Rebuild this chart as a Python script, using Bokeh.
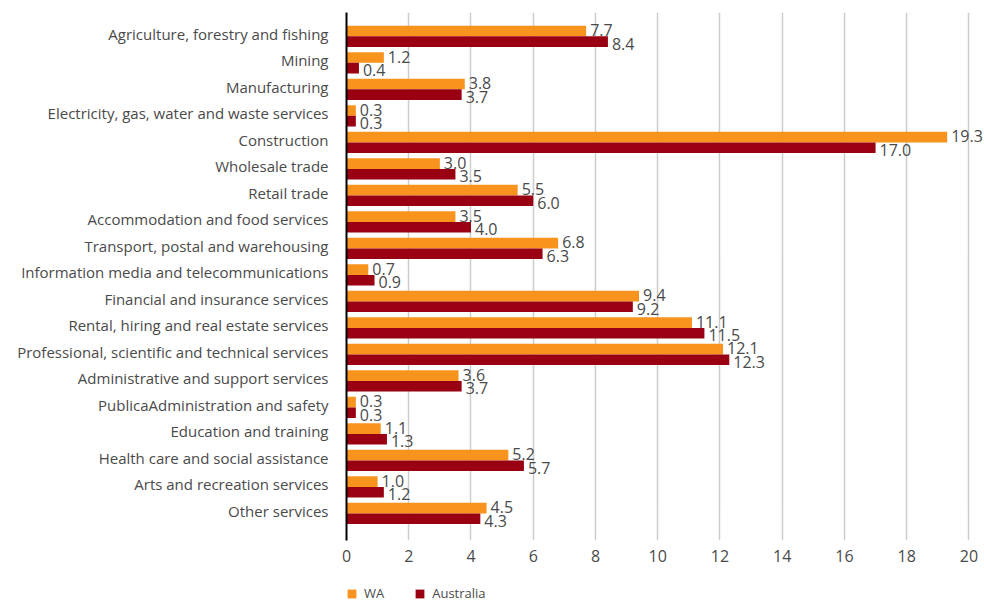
from bokeh.plotting import figure
from bokeh.layouts import column
from bokeh.models import Range1d, FixedTicker, Legend, LegendItem, ColumnDataSource
from bokeh.core.properties import value
from bokeh.embed import file_html
from bokeh.resources import INLINE

categories = [
    "Agriculture, forestry and fishing",
    "Mining",
    "Manufacturing",
    "Electricity, gas, water and waste services",
    "Construction",
    "Wholesale trade",
    "Retail trade",
    "Accommodation and food services",
    "Transport, postal and warehousing",
    "Information media and telecommunications",
    "Financial and insurance services",
    "Rental, hiring and real estate services",
    "Professional, scientific and technical services",
    "Administrative and support services",
    "PublicaAdministration and safety",
    "Education and training",
    "Health care and social assistance",
    "Arts and recreation services",
    "Other services",
]
wa = [7.7, 1.2, 3.8, 0.3, 19.3, 3.0, 5.5, 3.5, 6.8, 0.7, 9.4, 11.1, 12.1, 3.6, 0.3, 1.1, 5.2, 1.0, 4.5]
australia = [8.4, 0.4, 3.7, 0.3, 17.0, 3.5, 6.0, 4.0, 6.3, 0.9, 9.2, 11.5, 12.3, 3.7, 0.3, 1.3, 5.7, 1.2, 4.3]
x_ticks = [0, 2, 4, 6, 8, 10, 12, 14, 16, 18, 20]
series_names = ["WA", "Australia"]

FONT = "Open Sans"
TXT = "#4a4a4a"
C_WA = "#F8931D"
C_AU = "#990012"

idx = list(range(len(categories)))
label_pos = [i - 0.1 for i in idx]
src_wa = ColumnDataSource(dict(y=[i - 0.2 for i in idx], v=wa, t=[f"{v:.1f}" for v in wa]))
src_au = ColumnDataSource(dict(y=[i + 0.2 for i in idx], v=australia, t=[f"{v:.1f}" for v in australia]))

p = figure(width=984, height=572, output_backend="svg", toolbar_location=None,
           x_range=Range1d(0, 20.5), y_range=Range1d(19.02, -0.9),
           min_border_left=346, min_border_right=0, min_border_top=12, min_border_bottom=32)
p.outline_line_color = None
p.background_fill_color = "white"

r_wa = p.hbar(y="y", right="v", left=0, height=0.4, source=src_wa, color=C_WA, line_color=None)
r_au = p.hbar(y="y", right="v", left=0, height=0.4, source=src_au, color=C_AU, line_color=None)

p.text(x="v", y="y", text="t", source=src_wa, x_offset=4, y_offset=-1,
       text_baseline="middle", text_font=value(FONT), text_font_size="16px", text_color=TXT)
p.text(x="v", y="y", text="t", source=src_au, x_offset=4, y_offset=2,
       text_baseline="middle", text_font=value(FONT), text_font_size="16px", text_color=TXT)

p.xaxis.ticker = FixedTicker(ticks=x_ticks)
p.xaxis.axis_line_color = None
p.xaxis.major_tick_line_color = None
p.xaxis.major_tick_out = 0
p.xaxis.minor_tick_line_color = None
p.xaxis.major_label_text_font = FONT
p.xaxis.major_label_text_font_size = "16px"
p.xaxis.major_label_text_color = TXT
p.xaxis.major_label_standoff = 9

p.yaxis.ticker = FixedTicker(ticks=label_pos)
p.yaxis.major_label_overrides = {pos: c for pos, c in zip(label_pos, categories)}
p.yaxis.axis_line_color = "black"
p.yaxis.axis_line_width = 2
p.yaxis.major_tick_line_color = None
p.yaxis.major_tick_out = 0
p.yaxis.minor_tick_line_color = None
p.yaxis.major_label_text_font = FONT
p.yaxis.major_label_text_font_size = "15px"
p.yaxis.major_label_text_color = TXT
p.yaxis.major_label_standoff = 18

p.xgrid.grid_line_color = "#cccccc"
p.xgrid.grid_line_width = 1.5
p.ygrid.grid_line_color = None

# legend strip below the chart
q = figure(width=984, height=32, output_backend="svg", toolbar_location=None,
           x_range=Range1d(0, 1), y_range=Range1d(0, 1),
           x_axis_type=None, y_axis_type=None,
           min_border_left=346, min_border_right=0, min_border_top=12, min_border_bottom=0)
q.outline_line_color = None
l_wa = q.quad(left=[-3], right=[-2], bottom=[0], top=[1], color=C_WA, line_color=None)
l_au = q.quad(left=[-3], right=[-2], bottom=[0], top=[1], color=C_AU, line_color=None)
legend = Legend(items=[LegendItem(label=series_names[0], renderers=[l_wa]),
                       LegendItem(label=series_names[1], renderers=[l_au])],
                orientation="horizontal", location="top_left",
                glyph_width=11, glyph_height=11, label_text_font=FONT,
                label_text_font_size="13px", label_text_color=TXT,
                spacing=30, padding=0, margin=0, border_line_color=None,
                background_fill_alpha=0,
                label_standoff=7, label_height=11)
q.add_layout(legend, "center")

open("out.html", "w").write(file_html(column(p, q, spacing=0), INLINE))
